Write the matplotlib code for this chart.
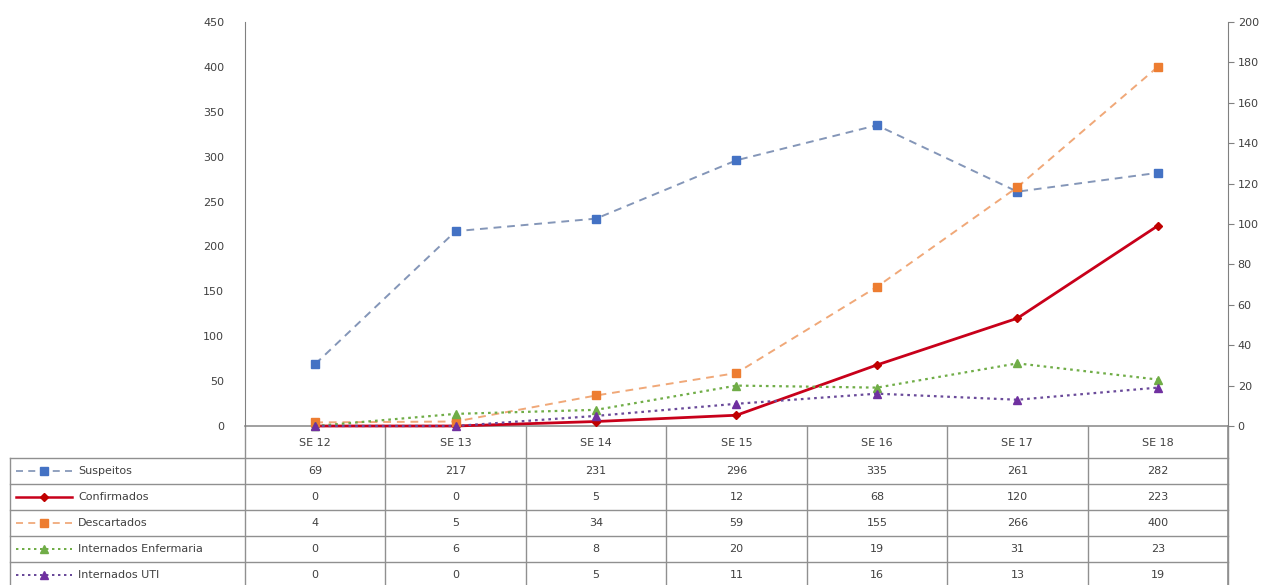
import matplotlib
matplotlib.use("Agg")
import matplotlib.pyplot as plt

categories = ["SE 12", "SE 13", "SE 14", "SE 15", "SE 16", "SE 17", "SE 18"]
suspeitos = [69, 217, 231, 296, 335, 261, 282]
confirmados = [0, 0, 5, 12, 68, 120, 223]
descartados = [4, 5, 34, 59, 155, 266, 400]
enfermaria = [0, 6, 8, 20, 19, 31, 23]
uti = [0, 0, 5, 11, 16, 13, 19]
series_names = ["Suspeitos", "Confirmados", "Descartados", "Internados Enfermaria", "Internados UTI"]
left_ticks = [0, 50, 100, 150, 200, 250, 300, 350, 400, 450]
right_ticks = [0, 20, 40, 60, 80, 100, 120, 140, 160, 180, 200]

W, H = 1271, 585
fig = plt.figure(figsize=(W / 100, H / 100), dpi=100)
plt.rcParams['font.family'] = ['DejaVu Sans']
tc = '#404040'
fs = 8

x0, x1, ytop, ybot = 245, 1228, 22, 426
ax = fig.add_axes([x0 / W, 1 - ybot / H, (x1 - x0) / W, (ybot - ytop) / H])
ax2 = ax.twinx()
xs = list(range(len(categories)))

styles = [
    dict(color='#4472C4', lc='#8496B8', ls=(0, (4, 3)), marker='s', ms=6, lw=1.4),
    dict(color='#C00000', lc='#C8001A', ls='-', marker='D', ms=4, lw=2.0),
    dict(color='#ED7D31', lc='#F0A878', ls=(0, (4, 3)), marker='s', ms=6, lw=1.4),
    dict(color='#70AD47', lc='#70AD47', ls=(0, (1.2, 1.8)), marker='^', ms=6, lw=1.6),
    dict(color='#7030A0', lc='#6A4A9A', ls=(0, (1.2, 1.8)), marker='^', ms=6, lw=1.6),
]
data = [suspeitos, confirmados, descartados, enfermaria, uti]
axes_for = [ax, ax, ax, ax2, ax2]
for vals, st, a in zip(data, styles, axes_for):
    a.plot(xs, vals, color=st['lc'], ls=st['ls'], lw=st['lw'], marker=st['marker'],
           ms=st['ms'], mfc=st['color'], mec=st['color'], clip_on=False, zorder=3)

ax.set_xlim(-0.5, len(categories) - 0.5)
ax.set_ylim(0, 450)
ax2.set_ylim(0, 200)
ax.set_yticks(left_ticks)
ax2.set_yticks(right_ticks)
ax.set_xticks([])
ax.tick_params(axis='y', length=0, labelsize=fs, labelcolor=tc, pad=15)
ax2.tick_params(axis='y', length=4, width=0.8, color='#808080', labelsize=fs, labelcolor=tc, pad=3, direction='out')
for a in (ax, ax2):
    a.spines['top'].set_visible(False)
    a.spines['bottom'].set_visible(False)
    a.spines['left'].set_color('#808080')
    a.spines['right'].set_color('#808080')
    a.patch.set_visible(False)
ax.spines['right'].set_visible(False)
ax2.spines['left'].set_visible(False)

# table overlay
tab = fig.add_axes([0, 0, 1, 1], zorder=-1)
tab.set_xlim(0, W)
tab.set_ylim(H, 0)
tab.axis('off')
gc = '#909090'
colw = (x1 - x0) / len(categories)
hdr_top, hdr_bot = ybot, 458
row_h = 26
tab.plot([x0, x1], [ybot, ybot], color=gc, lw=1.2)
tab.plot([x1, x1], [ybot, H], color=gc, lw=1.2)
for i in range(len(categories) + 1):
    xx = x0 + i * colw
    tab.plot([xx, xx], [ybot, H], color=gc, lw=1.0)
for i, c in enumerate(categories):
    tab.text(x0 + (i + 0.5) * colw, (hdr_top + hdr_bot) / 2 + 1, c, ha='center', va='center',
             fontsize=fs, color=tc)
tab.plot([10, x1], [hdr_bot, hdr_bot], color=gc, lw=1.0)
tab.plot([10, 10], [hdr_bot, H], color=gc, lw=1.0)
for r in range(len(series_names)):
    yb = hdr_bot + (r + 1) * row_h
    tab.plot([10, x1], [yb, yb], color=gc, lw=1.0)
    yc = hdr_bot + (r + 0.5) * row_h
    st = styles[r]
    tab.plot([16, 72], [yc, yc], color=st['lc'], ls=st['ls'], lw=st['lw'] * 0.9)
    tab.plot([44], [yc], marker=st['marker'], ms=st['ms'] * 0.9, color=st['color'], ls='none')
    tab.text(78, yc, series_names[r], ha='left', va='center', fontsize=fs, color=tc)
    for i, v in enumerate(data[r]):
        tab.text(x0 + (i + 0.5) * colw, yc, str(v), ha='center', va='center', fontsize=fs, color=tc)

fig.savefig("out.png", dpi=100, facecolor='white')
